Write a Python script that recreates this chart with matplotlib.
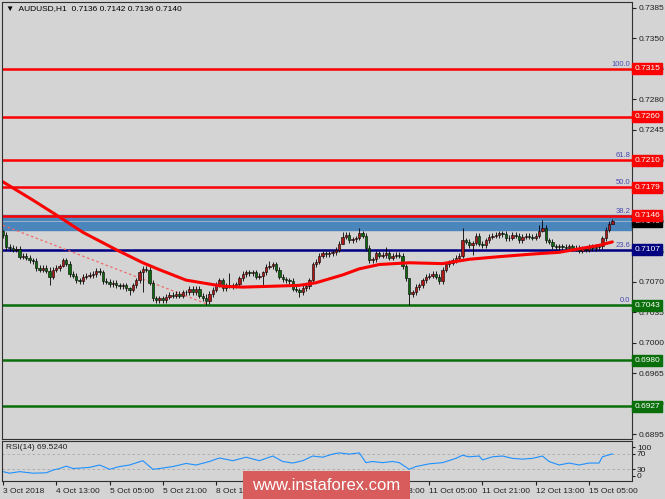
import numpy as np
import matplotlib.pyplot as plt
from matplotlib.patches import Rectangle
from matplotlib.transforms import blended_transform_factory

# AUDUSD H1 closes, 3 Oct 21:00 -> 15 Oct
closes = [
    0.7124, 0.7110, 0.7109, 0.7107, 0.7108, 0.7099, 0.7100, 0.7098, 0.7095, 0.7094,
    0.7086, 0.7084, 0.7086, 0.7083, 0.7076, 0.7084, 0.7086, 0.7088, 0.7095, 0.7091,
    0.7079, 0.7077, 0.7072, 0.7071, 0.7076, 0.7077, 0.7078, 0.7079, 0.7083, 0.7081,
    0.7071, 0.7070, 0.7067, 0.7069, 0.7066, 0.7065, 0.7066, 0.7063, 0.7061, 0.7066,
    0.7072, 0.7081, 0.7085, 0.7084, 0.7069, 0.7051, 0.7049, 0.7051, 0.7049, 0.7053,
    0.7055, 0.7054, 0.7056, 0.7054, 0.7058, 0.7058, 0.7062, 0.7058, 0.7062, 0.7054,
    0.7051, 0.7048, 0.7056, 0.7061, 0.7067, 0.7072, 0.7063, 0.7066, 0.7065, 0.7066,
    0.7067, 0.7074, 0.7079, 0.7081, 0.7080, 0.7081, 0.7076, 0.7077, 0.7081, 0.7087,
    0.7088, 0.7090, 0.7084, 0.7076, 0.7073, 0.7072, 0.7071, 0.7062, 0.7061, 0.7058,
    0.7063, 0.7065, 0.7072, 0.7090, 0.7093, 0.7100, 0.7103, 0.7102, 0.7103, 0.7104,
    0.7107, 0.7114, 0.7122, 0.7124, 0.7118, 0.7119, 0.7120, 0.7126, 0.7123, 0.7109,
    0.7095, 0.7096, 0.7103, 0.7100, 0.7101, 0.7103, 0.7098, 0.7100, 0.7101, 0.7100,
    0.7088, 0.7074, 0.7056, 0.7058, 0.7064, 0.7066, 0.7072, 0.7076, 0.7077, 0.7079,
    0.7076, 0.7071, 0.7084, 0.7090, 0.7092, 0.7095, 0.7098, 0.7100, 0.7118, 0.7116,
    0.7112, 0.7115, 0.7123, 0.7114, 0.7112, 0.7118, 0.7122, 0.7123, 0.7124, 0.7126,
    0.7125, 0.7120, 0.7121, 0.7124, 0.7123, 0.7118, 0.7122, 0.7123, 0.7122, 0.7121,
    0.7123, 0.7129, 0.7132, 0.7118, 0.7116, 0.7111, 0.7110, 0.7111, 0.7110, 0.7109,
    0.7111, 0.7108, 0.7109, 0.7106, 0.7108, 0.7107, 0.7110, 0.7109, 0.7110, 0.7111,
    0.7120, 0.7130, 0.7137, 0.7140,
]
first_open = 0.7128
wick = 0.0003
# bars with visibly long shadows: index -> (high, low)
wick_notes = {
    0: (0.7130, 0.7121), 14: (0.7087, 0.7066), 18: (0.7098, 0.7087),
    38: (0.7064, 0.7055), 42: (0.7088, 0.7058), 61: (0.7056, 0.7043),
    68: (0.7080, 0.7063), 78: (0.7083, 0.7066), 80: (0.7094, 0.7085),
    89: (0.7063, 0.7053), 102: (0.7127, 0.7113), 107: (0.7132, 0.7118),
    115: (0.7110, 0.7097), 122: (0.7075, 0.7043), 138: (0.7132, 0.7098),
    141: (0.7117, 0.7101), 161: (0.7135, 0.7121), 162: (0.7141, 0.7127),
    183: (0.7142, 0.7136),
}

ma_idx = [0, 9, 16, 24, 34, 42, 47, 55, 66, 72, 81, 89, 94, 102, 107, 113,
          122, 132, 140, 149, 159, 167, 173, 179, 183]
ma_val = [0.7185, 0.7164, 0.7147, 0.7127, 0.7107, 0.7092, 0.7084, 0.7072, 0.7065,
          0.7064, 0.7065, 0.7066, 0.7069, 0.7078, 0.7085, 0.7090, 0.7092, 0.7091,
          0.7096, 0.7099, 0.7102, 0.7104, 0.7108, 0.7112, 0.7116]

trend_x = [0, 61]
trend_y = [0.7135, 0.7045]

rsi_idx = [0, 2, 5, 9, 13, 15, 17, 19, 21, 23, 26, 29, 32, 35, 38, 42, 45, 47, 51, 55,
           58, 62, 65, 69, 73, 77, 81, 84, 87, 90, 93, 96, 99, 101, 104, 107, 109, 111,
           114, 117, 119, 122, 124, 128, 132, 136, 138, 140, 143, 144, 147, 150, 153,
           156, 159, 162, 164, 167, 170, 173, 176, 179, 180, 183]
rsi_val = [24, 20, 24, 20, 21, 28, 32, 38, 32, 33, 35, 41, 30, 37, 41, 52, 30, 32, 37, 45,
           41, 50, 59, 52, 61, 52, 64, 50, 46, 52, 64, 61, 69, 72, 69, 72, 47, 50,
           47, 50, 47, 30, 37, 44, 47, 58, 66, 62, 64, 54, 62, 64, 58,
           56, 58, 64, 50, 41, 46, 41, 46, 46, 62, 69.52]

red_levels = [0.7315, 0.7260, 0.7210, 0.7179, 0.7146]
navy_levels = [0.7107]
green_levels = [0.7043, 0.6980, 0.6927]
fib_levels = [0.7315, 0.7210, 0.7179, 0.7146, 0.7107, 0.7043]
fib_names = ['100.0', '61.8', '50.0', '38.2', '23.6', '0.0']
zone = (0.7130, 0.7147)
bid = 0.7140

price_ticks = [0.6895, 0.6930, 0.6965, 0.7000, 0.7035, 0.7070, 0.7105, 0.7140,
               0.7175, 0.7210, 0.7245, 0.7280, 0.7315, 0.7350, 0.7385]
date_idx = [0, 16, 32, 48, 64, 80, 96, 112, 128, 144, 160, 176]
date_labels = ['3 Oct 2018', '4 Oct 13:00', '5 Oct 05:00', '5 Oct 21:00', '8 Oct 13:00',
               '9 Oct 05:00', '9 Oct 21:00', '10 Oct 13:00', '11 Oct 05:00',
               '11 Oct 21:00', '12 Oct 13:00', '15 Oct 05:00']

bg = '#d4d4d4'
fam = ['Liberation Sans', 'DejaVu Sans']
plt.rcParams['font.family'] = fam

fig = plt.figure(figsize=(6.65, 4.99), dpi=100, facecolor=bg)
ax = fig.add_axes([2/665, 60/499, 630/665, 437/499], facecolor=bg)
rax = fig.add_axes([2/665, 18/499, 630/665, 40/499], facecolor=bg)

# candles
x = np.arange(len(closes))
opens = [first_open] + closes[:-1]
highs, lows = [], []
for i, (o, c) in enumerate(zip(opens, closes)):
    if i in wick_notes:
        h, l = wick_notes[i]
    else:
        h, l = max(o, c) + wick, min(o, c) - wick
    highs.append(h)
    lows.append(l)
opens = np.array(opens)
cl = np.array(closes)
cols = ['#b01818' if c >= o else '#0c6a0c' for o, c in zip(opens, cl)]

# levels and zone
ax.axhspan(zone[0], zone[1], color='#4a85bb', zorder=1)
ax.axhline(bid, color='#9ab4cc', lw=0.7, zorder=1.2)
for lv in fib_levels:
    ax.axhline(lv, color='#3030b0', lw=0.8, zorder=1.1)
for lv in red_levels:
    ax.axhline(lv, color='#ff0000', lw=1.8, zorder=1.3)
for lv in navy_levels:
    ax.axhline(lv, color='#000080', lw=1.8, zorder=1.3)
for lv in green_levels:
    ax.axhline(lv, color='#0a6e0a', lw=1.8, zorder=1.3)

ax.plot(trend_x, trend_y, color='#f06a6a', lw=0.9, ls=(0, (2, 2)), zorder=1.4)
ax.vlines(x, lows, highs, color='black', lw=0.6, zorder=2)
ax.bar(x, np.maximum(np.abs(cl - opens), 0.00004), bottom=np.minimum(cl, opens),
       width=0.7, color=cols, edgecolor='black', linewidth=0.4, zorder=2.1)
ax.plot(ma_idx, ma_val, color='#ff0000', lw=2.2, zorder=2.2, solid_capstyle='round')

ax.set_xlim(-0.3, 188.9)
ax.set_ylim(0.68893, 0.73919)
ax.set_xticks([])
ax.yaxis.tick_right()
ax.set_yticks(price_ticks)
ax.set_yticklabels([f'{p:.4f}' for p in price_ticks])
ax.tick_params(axis='y', length=3, width=0.8, labelsize=6, pad=1.5, colors='#202020')
for s in ax.spines.values():
    s.set_color('#303030')

tr = blended_transform_factory(ax.transAxes, ax.transData)
for lv, nm in zip(fib_levels, fib_names):
    ax.text(0.997, lv + 0.0001, nm, transform=tr, ha='right', va='bottom',
            fontsize=5.5, color='#4848b0', zorder=3)

def price_box(lv, fc, z=6):
    ax.text(1.004, lv, f'{lv:.4f}', transform=tr, ha='left', va='center', fontsize=6,
            color='white', clip_on=False, zorder=z,
            bbox=dict(boxstyle='square,pad=0.25', fc=fc, ec=fc))

# current price box sits underneath the level boxes
price_box(bid, '#000000', z=5)
for lv in red_levels:
    price_box(lv, '#ff0000')
for lv in navy_levels:
    price_box(lv, '#000080')
for lv in green_levels:
    price_box(lv, '#0a6e0a')

ax.text(0.006, 0.992, '\u25bc  AUDUSD,H1  0.7136 0.7142 0.7136 0.7140', transform=ax.transAxes,
        ha='left', va='top', fontsize=6, color='black', family=fam)

# RSI panel
rax.axhline(70, color='#a8a8a8', lw=0.6, ls=(0, (3, 3)))
rax.axhline(30, color='#a8a8a8', lw=0.6, ls=(0, (3, 3)))
rax.plot(rsi_idx, rsi_val, color='#1e90ff', lw=0.8)
rax.set_xlim(-0.3, 188.9)
rax.set_ylim(0, 102.5)
rax.yaxis.tick_right()
rax.set_yticks([87, 70, 30, 14])
rax.set_yticklabels(['100', '70', '30', '0'])
rax.tick_params(axis='y', length=2, width=0.8, labelsize=6, pad=1.5, colors='#202020')
rax.set_xticks(date_idx)
rax.set_xticklabels(date_labels, ha='left')
rax.tick_params(axis='x', length=3, width=0.8, labelsize=6, pad=2, colors='#202020')
for s in rax.spines.values():
    s.set_color('#303030')
rax.text(0.006, 0.92, 'RSI(14) 69.5240', transform=rax.transAxes, ha='left', va='top',
         fontsize=6, color='#202020')

# watermark
fig.patches.append(Rectangle((243/665, 0), 167/665, 28/499, transform=fig.transFigure,
                             fc='#d95c5c', ec='none', zorder=10))
fig.text(326/665, 1 - 486/499, 'www.instaforex.com', ha='center', va='center',
         fontsize=12, color='white', zorder=11)

fig.savefig('out.png', dpi=100, facecolor=bg)
